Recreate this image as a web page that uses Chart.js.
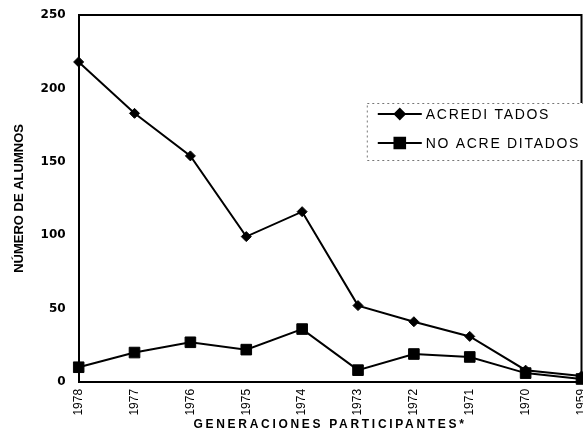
<!DOCTYPE html>
<html>
<head>
<meta charset="utf-8">
<script src="https://cdn.jsdelivr.net/npm/chart.js@4.4.1/dist/chart.umd.min.js"></script>
<style>
  html, body { margin: 0; padding: 0; background: #fff; overflow: hidden; }
  #wrap { width: 583px; height: 430px; position: relative; overflow: hidden; }
  #c { display: block; }
</style>
</head>
<body>
<div id="wrap"><canvas id="c" width="590" height="430"></canvas></div>
<script>
const categories = ['1978', '1977', '1976', '1975', '1974', '1973', '1972', '1971', '1970', '1959'];
const acreditados = [218, 183, 154, 99, 116, 52, 41, 31, 8, 4];
const noAcreditados = [10, 20, 27, 22, 36, 8, 19, 17, 6, 2];
const seriesLabels = ['ACREDI TADOS', 'NO ACRE DITADOS'];
const yTicks = [0, 50, 100, 150, 200, 250];
const xTitle = 'GENERACIONES PARTICIPANTES*';
const yTitle = 'NÚMERO DE ALUMNOS';

const spacingPlugin = {
  id: 'spacing',
  beforeDraw(chart) { chart.ctx.letterSpacing = '0px'; },
  beforeDatasetsDraw(chart) {
    const {ctx, chartArea: a} = chart;
    ctx.save();
    ctx.strokeStyle = '#000';
    ctx.lineWidth = 2;
    ctx.beginPath();
    ctx.moveTo(a.left, a.top);
    ctx.lineTo(a.right, a.top);
    ctx.lineTo(a.right, a.bottom);
    ctx.stroke();
    ctx.restore();
  },
  afterDatasetsDraw(chart) { chart.ctx.letterSpacing = '2.7px'; },
  afterDraw(chart) {
    const {ctx, chartArea: a} = chart;
    ctx.letterSpacing = '0px';
    const w = a.right - a.left;
    const bx = a.left + 0.573 * w, by = a.top + 88, bw = 240, bh = 57;
    ctx.save();
    ctx.fillStyle = '#fff';
    ctx.fillRect(bx, by, bw, bh);
    ctx.strokeStyle = '#777';
    ctx.lineWidth = 1;
    ctx.setLineDash([2, 3]);
    ctx.strokeRect(bx + 0.5, by + 0.5, bw, bh);
    ctx.setLineDash([]);
    chart.data.datasets.forEach((ds, i) => {
      const y = by + 11 + i * 29;
      const x0 = bx + 11, x1 = bx + 55;
      ctx.strokeStyle = ds.borderColor;
      ctx.lineWidth = 2;
      ctx.beginPath(); ctx.moveTo(x0, y); ctx.lineTo(x1, y); ctx.stroke();
      Chart.helpers.drawPoint(ctx, {pointStyle: ds.pointStyle, radius: ds.pointRadius, borderWidth: 1, rotation: 0}, (x0 + x1) / 2, y);
      ctx.fillStyle = '#000';
      ctx.fill();
      ctx.letterSpacing = '1.7px';
      ctx.font = '14px "Liberation Sans", Arial, sans-serif';
      ctx.textBaseline = 'middle';
      ctx.textAlign = 'left';
      ctx.fillText(ds.label, x1 + 4, y + 1);
      ctx.letterSpacing = '0px';
    });
    ctx.restore();
  }
};

new Chart(document.getElementById('c'), {
  type: 'line',
  data: {
    labels: categories,
    datasets: [
      {
        label: seriesLabels[0],
        data: acreditados,
        borderColor: '#000',
        backgroundColor: '#000',
        borderWidth: 2,
        pointStyle: 'rectRot',
        pointRadius: 5,
        pointBorderWidth: 1,
        tension: 0,
        clip: 6
      },
      {
        label: seriesLabels[1],
        data: noAcreditados,
        borderColor: '#000',
        backgroundColor: '#000',
        borderWidth: 2,
        pointStyle: 'rect',
        pointRadius: 7.5,
        pointBorderWidth: 1,
        tension: 0,
        clip: 6
      }
    ]
  },
  options: {
    responsive: false,
    animation: false,
    devicePixelRatio: 1,
    layout: { padding: { left: 12, top: 15, right: 0, bottom: -2 } },
    plugins: { legend: { display: false }, tooltip: { enabled: false } },
    scales: {
      x: {
        offset: false,
        afterFit(scale) { scale.paddingRight = 0; scale.paddingLeft = 0; },
        grid: { display: false, drawTicks: false, z: 1 },
        border: { display: true, color: '#000', width: 2, z: 2 },
        ticks: {
          color: '#000',
          maxRotation: 90,
          minRotation: 90,
          padding: 7,
          autoSkip: false,
          font: { family: '"Liberation Sans Narrow", "Liberation Sans", Arial, sans-serif', size: 12 }
        },
        title: {
          display: true,
          text: xTitle,
          color: '#000',
          padding: { top: -5, bottom: 0 },
          font: { family: '"Liberation Sans", Arial, sans-serif', size: 12, weight: 'bold' }
        }
      },
      y: {
        min: 0,
        max: 250,
        afterBuildTicks(scale) { scale.ticks = yTicks.map(v => ({ value: v })); },
        afterFit(scale) { scale.paddingTop = 0; scale.paddingBottom = 0; },
        grid: { display: false, drawTicks: false },
        border: { display: true, color: '#000', width: 2 },
        ticks: {
          color: '#000',
          padding: 13,
          font: { family: '"DejaVu Sans", sans-serif', size: 12, weight: 'bold' }
        },
        title: {
          display: true,
          text: yTitle,
          color: '#000',
          padding: { top: 0, bottom: 0 },
          font: { family: '"Liberation Sans Narrow", "Liberation Sans", Arial, sans-serif', size: 13, weight: 'bold' }
        }
      }
    }
  },
  plugins: [spacingPlugin]
});
</script>
</body>
</html>
